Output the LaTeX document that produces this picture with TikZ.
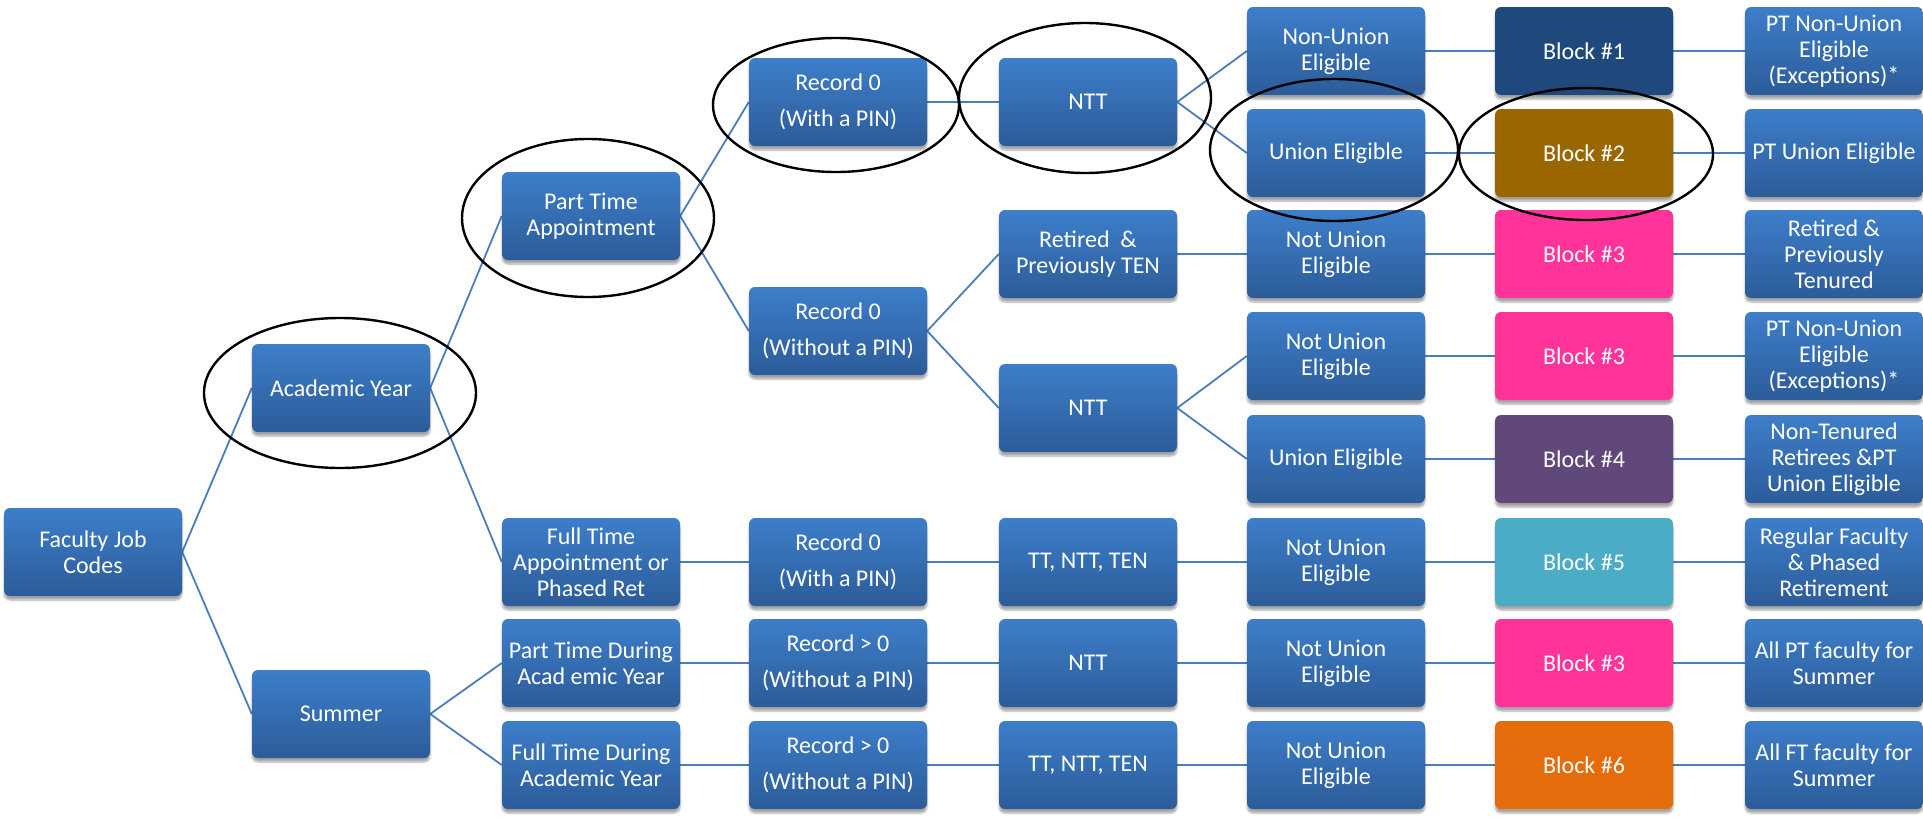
\documentclass[tikz,border=0pt]{standalone}
\usepackage{fontspec}
\setmainfont{Carlito}
\usetikzlibrary{shadows.blur,backgrounds}
\definecolor{lnk}{RGB}{74,126,187}
\definecolor{boxtop}{RGB}{61,126,202}
\definecolor{boxbot}{RGB}{44,92,153}
\definecolor{blkA}{RGB}{31,73,125}
\definecolor{blkB}{RGB}{153,102,0}
\definecolor{blkC}{RGB}{255,51,153}
\definecolor{blkD}{RGB}{96,73,122}
\definecolor{blkE}{RGB}{75,172,198}
\definecolor{blkF}{RGB}{228,108,10}
\tikzset{
  box/.style={rectangle, rounded corners=6pt, minimum width=178pt, minimum height=88pt,
    inner sep=2pt, align=center, text=white, font=\fontsize{24}{26}\selectfont,
    blur shadow={shadow xshift=0pt, shadow yshift=-4pt, shadow blur steps=6, shadow opacity=35}},
  bluebox/.style={box, top color=boxtop, bottom color=boxbot},
  blk/.style={box, fill=#1},
  link/.style={draw=lnk, line width=1.8pt},
  ring/.style={draw=black, line width=2.4pt}
}
\begin{document}
\begin{tikzpicture}[x=1pt,y=-1pt]
\useasboundingbox (0,0) rectangle (1923,817);
% column 0-1
\node[bluebox] (fjc) at (93,552) {Faculty Job\\Codes};
\node[bluebox] (ay) at (341,388) {Academic Year};
\node[bluebox] (sum) at (341,714) {Summer};
% column 2
\node[bluebox] (pta) at (591,216) {Part Time\\Appointment};
\node[bluebox] (fta) at (591,562) {Full Time\\Appointment or\\Phased Ret};
\node[bluebox] (ptd) at (591,663) {Part Time During\\Acad emic Year};
\node[bluebox] (ftd) at (591,765) {Full Time During\\Academic Year};
% column 3
\node[bluebox] (r0p) at (838,102) {Record 0\\[10pt](With a PIN)};
\node[bluebox] (r0np) at (838,331) {Record 0\\[10pt](Without a PIN)};
\node[bluebox] (r0p2) at (838,562) {Record 0\\[10pt](With a PIN)};
\node[bluebox] (r1) at (838,663) {Record > 0\\[10pt](Without a PIN)};
\node[bluebox] (r2) at (838,765) {Record > 0\\[10pt](Without a PIN)};
% column 4
\node[bluebox] (ntt1) at (1088,102) {NTT};
\node[bluebox] (ret) at (1088,254) {Retired\ \ \&\\Previously TEN};
\node[bluebox] (ntt2) at (1088,408) {NTT};
\node[bluebox] (tt1) at (1088,562) {TT, NTT, TEN};
\node[bluebox] (ntt3) at (1088,663) {NTT};
\node[bluebox] (tt2) at (1088,765) {TT, NTT, TEN};
% column 5
\node[bluebox] (nue1) at (1336,51) {Non-Union\\Eligible};
\node[bluebox] (ue1) at (1336,153) {Union Eligible};
\node[bluebox] (nue2) at (1336,254) {Not Union\\Eligible};
\node[bluebox] (nue3) at (1336,356) {Not Union\\Eligible};
\node[bluebox] (ue2) at (1336,459) {Union Eligible};
\node[bluebox] (nue4) at (1336,562) {Not Union\\Eligible};
\node[bluebox] (nue5) at (1336,663) {Not Union\\Eligible};
\node[bluebox] (nue6) at (1336,765) {Not Union\\Eligible};
% column 6
\node[blk=blkA] (b1) at (1584,51) {Block \#1};
\node[blk=blkB] (b2) at (1584,153) {Block \#2};
\node[blk=blkC] (b3a) at (1584,254) {Block \#3};
\node[blk=blkC] (b3b) at (1584,356) {Block \#3};
\node[blk=blkD] (b4) at (1584,459) {Block \#4};
\node[blk=blkE] (b5) at (1584,562) {Block \#5};
\node[blk=blkC] (b3c) at (1584,663) {Block \#3};
\node[blk=blkF] (b6) at (1584,765) {Block \#6};
% column 7
\node[bluebox] (res1) at (1834,51) {PT Non-Union\\Eligible\\(Exceptions)*};
\node[bluebox] (res2) at (1834,153) {PT Union Eligible};
\node[bluebox] (res3) at (1834,254) {Retired \&\\Previously\\Tenured};
\node[bluebox] (res4) at (1834,356) {PT Non-Union\\Eligible\\(Exceptions)*};
\node[bluebox] (res5) at (1834,459) {Non-Tenured\\Retirees \&PT\\Union Eligible};
\node[bluebox] (res6) at (1834,562) {Regular Faculty\\\& Phased\\Retirement};
\node[bluebox] (res7) at (1834,663) {All PT faculty for\\Summer};
\node[bluebox] (res8) at (1834,765) {All FT faculty for\\Summer};
% connectors
\begin{scope}[on background layer]
\foreach \a/\b in {fjc/ay, fjc/sum, ay/pta, ay/fta, sum/ptd, sum/ftd,
  pta/r0p, pta/r0np, fta/r0p2, ptd/r1, ftd/r2,
  r0p/ntt1, r0np/ret, r0np/ntt2, r0p2/tt1, r1/ntt3, r2/tt2,
  ntt1/nue1, ntt1/ue1, ret/nue2, ntt2/nue3, ntt2/ue2, tt1/nue4, ntt3/nue5, tt2/nue6,
  nue1/b1, ue1/b2, nue2/b3a, nue3/b3b, ue2/b4, nue4/b5, nue5/b3c, nue6/b6,
  b1/res1, b2/res2, b3a/res3, b3b/res4, b4/res5, b5/res6, b3c/res7, b6/res8}
  \draw[link] (\a.east) -- (\b.west);
\end{scope}
% highlight ellipses
\draw[ring] (340,393) ellipse [x radius=136pt, y radius=75pt];
\draw[ring] (588,218) ellipse [x radius=126pt, y radius=79pt];
\draw[ring] (836,105) ellipse [x radius=123pt, y radius=67pt];
\draw[ring] (1085,98) ellipse [x radius=126pt, y radius=75pt];
\draw[ring] (1334,150) ellipse [x radius=124pt, y radius=71pt];
\draw[ring] (1586,154) ellipse [x radius=127pt, y radius=66pt];
\end{tikzpicture}
\end{document}
